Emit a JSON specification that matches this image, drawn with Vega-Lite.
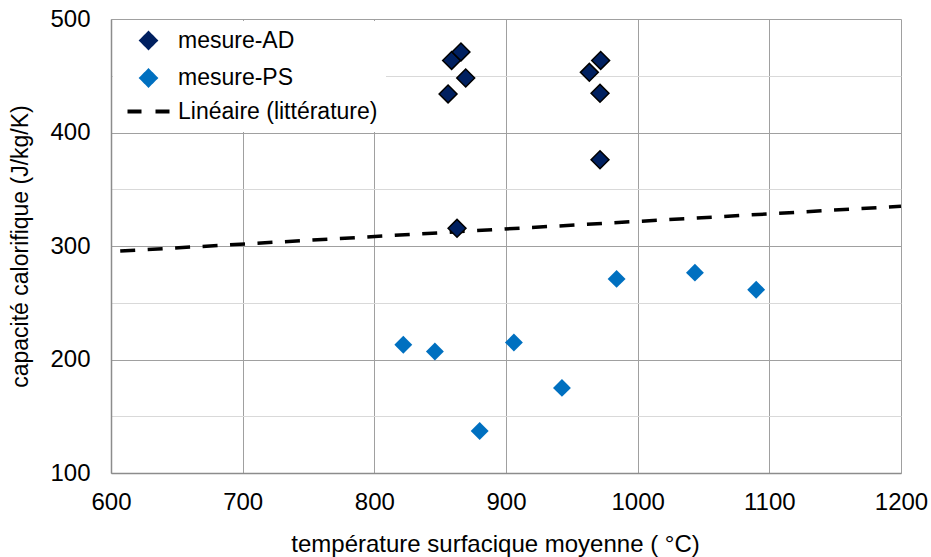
{
  "$schema": "https://vega.github.io/schema/vega-lite/v6.json",
  "width": 790,
  "height": 454,
  "autosize": "none",
  "padding": {"left": 111, "top": 19, "right": 30, "bottom": 84},
  "background": "white",
  "config": {
    "font": "Liberation Sans",
    "view": {"stroke": null}
  },
  "datasets": {
    "pts": [
      {"temp": 856, "cp": 434, "serie": "mesure-AD"},
      {"temp": 858.7, "cp": 463.5, "serie": "mesure-AD"},
      {"temp": 865.8, "cp": 471, "serie": "mesure-AD"},
      {"temp": 869.4, "cp": 448, "serie": "mesure-AD"},
      {"temp": 862.8, "cp": 315.6, "serie": "mesure-AD"},
      {"temp": 963.3, "cp": 453, "serie": "mesure-AD"},
      {"temp": 971.9, "cp": 463.5, "serie": "mesure-AD"},
      {"temp": 971.4, "cp": 434.5, "serie": "mesure-AD"},
      {"temp": 971.4, "cp": 376, "serie": "mesure-AD"},
      {"temp": 822, "cp": 213, "serie": "mesure-PS"},
      {"temp": 846, "cp": 207, "serie": "mesure-PS"},
      {"temp": 880, "cp": 137, "serie": "mesure-PS"},
      {"temp": 906, "cp": 215, "serie": "mesure-PS"},
      {"temp": 942.5, "cp": 175, "serie": "mesure-PS"},
      {"temp": 984, "cp": 271, "serie": "mesure-PS"},
      {"temp": 1043.5, "cp": 276.5, "serie": "mesure-PS"},
      {"temp": 1090, "cp": 261.5, "serie": "mesure-PS"}
    ],
    "lin": [
      {"temp": 607, "cp": 295.5, "serie": "Linéaire (littérature)"},
      {"temp": 1200, "cp": 335, "serie": "Linéaire (littérature)"}
    ]
  },
  "encoding": {
    "x": {
      "field": "temp",
      "type": "quantitative",
      "scale": {"domain": [600, 1200], "nice": false, "zero": false},
      "axis": {
        "title": "température surfacique moyenne ( °C)",
        "titleX": 384,
        "values": [600, 700, 800, 900, 1000, 1100, 1200],
        "format": "d",
        "ticks": false,
        "labelFontSize": 24,
        "labelColor": "#000000",
        "labelPadding": 17,
        "labelFlush": false,
        "titleFontSize": 24,
        "titleFontWeight": "normal",
        "titleColor": "#000000",
        "titlePadding": 18,
        "domainColor": "#8c8c8c",
        "domainWidth": 1.5,
        "gridColor": "#a0a0a0",
        "gridWidth": 1,
        "gridOpacity": 1
      }
    },
    "y": {
      "field": "cp",
      "type": "quantitative",
      "scale": {"domain": [100, 500], "nice": false, "zero": false},
      "axis": {
        "title": "capacité calorifique (J/kg/K)",
        "values": [100, 150, 200, 250, 300, 350, 400, 450, 500],
        "labelExpr": "datum.value % 100 === 0 ? datum.label : ''",
        "ticks": false,
        "labelFontSize": 24,
        "labelColor": "#000000",
        "labelPadding": 21,
        "labelFlush": false,
        "titleFontSize": 23,
        "titleFontWeight": "normal",
        "titleColor": "#000000",
        "titlePadding": 17,
        "domainColor": "#8c8c8c",
        "domainWidth": 1.5,
        "gridColor": {"condition": {"test": "datum.value % 100 === 0", "value": "#a0a0a0"}, "value": "#d9d9d9"},
        "gridWidth": 1,
        "gridOpacity": 1
      }
    },
    "color": {
      "field": "serie",
      "type": "nominal",
      "scale": {
        "domain": ["mesure-AD", "mesure-PS", "Linéaire (littérature)"],
        "range": ["#002060", "#0070C0", "#000000"]
      },
      "legend": {
        "title": null,
        "orient": "top-left",
        "offset": 2,
        "fillColor": "white",
        "padding": 8,
        "labelFontSize": 23,
        "labelColor": "#000000",
        "labelLimit": 0,
        "labelOffset": 18,
        "symbolSize": 1764,
        "rowPadding": 6.5,
        "symbolOffset": 16,
        "encode": {
          "symbols": {
            "update": {
              "shape": {"signal": "datum.value === 'Linéaire (littérature)' ? 'stroke' : 'diamond'"},
              "size": {"signal": "datum.value === 'Linéaire (littérature)' ? 1764 : 200"},
              "fill": {"signal": "scale('color', datum.value)"},
              "fillOpacity": {"value": 1},
              "stroke": {"signal": "datum.value === 'Linéaire (littérature)' ? '#000000' : 'transparent'"},
              "strokeWidth": {"value": 4},
              "strokeDash": {"signal": "datum.value === 'Linéaire (littérature)' ? [14, 14] : [1, 0]"},
              "opacity": {"value": 1}
            }
          }
        }
      }
    }
  },
  "layer": [
    {
      "data": {"name": "lin"},
      "mark": {"type": "line", "strokeWidth": 3.5, "strokeDash": [15, 12.5], "color": "#000000"}
    },
    {
      "data": {"name": "pts"},
      "mark": {"type": "point", "shape": "diamond", "filled": true, "size": 320, "opacity": 1},
      "encoding": {
        "stroke": {
          "condition": {"test": "datum.serie === 'mesure-AD'", "value": "#000000"},
          "value": null
        },
        "strokeWidth": {
          "condition": {"test": "datum.serie === 'mesure-AD'", "value": 1.5},
          "value": 0
        }
      }
    }
  ]
}
